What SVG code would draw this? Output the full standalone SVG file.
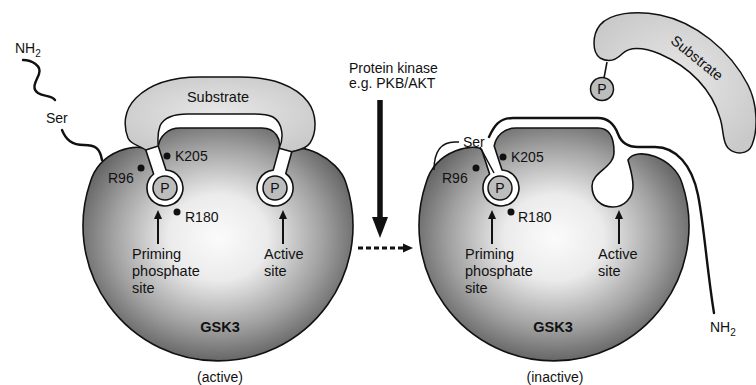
<svg xmlns="http://www.w3.org/2000/svg" width="756" height="385" viewBox="0 0 756 385">
  <style>
    text { font-family: "Liberation Sans", Arial, sans-serif; font-size: 14px; fill: #111; }
    .lbl { font-size: 14.5px; }
    .bold { font-weight: bold; font-size: 14.5px; }
    .mid { text-anchor: middle; }
    .body { fill: url(#bodyShade); stroke: #111; stroke-width: 1.6; stroke-linejoin: round; }
    .sub { fill: url(#subShade); stroke: #111; stroke-width: 1.5; stroke-linejoin: round; }
    .pho { fill: #bdbdbd; stroke: #111; stroke-width: 1.5; }
    .dot { fill: #111; }
    .chain { fill: none; stroke: #111; stroke-width: 2.4; stroke-linecap: round; }
    .thin { fill: none; stroke: #111; stroke-width: 1.5; }
    .ptr { stroke: #111; stroke-width: 2; }
    .head { fill: #111; }
  </style>
  <defs>
    <radialGradient id="bodyShade" cx="0.5" cy="0.47" r="0.56">
      <stop offset="0" stop-color="#fbfbfb"/>
      <stop offset="0.33" stop-color="#ebebeb"/>
      <stop offset="0.7" stop-color="#a0a0a0"/>
      <stop offset="1" stop-color="#5a5a5a"/>
    </radialGradient>
    <radialGradient id="subShade" cx="0.5" cy="0.5" r="0.6">
      <stop offset="0" stop-color="#e8e8e8"/>
      <stop offset="1" stop-color="#c9c9c9"/>
    </radialGradient>
  </defs>

  <!-- active GSK3 with bound primed substrate -->
  <g id="gsk3-active">
    <path class="body" d="M145.8 150 C141 143 100 148 90 183 A135 135 0 1 0 346 183 C338 157 297 141 291.8 151.7 L285.8 173.5 A18 18 0 1 1 273.2 170.1 L279.2 148.3 C281 140 276 128 262 128 L180 128 C168 128 160 136 158.2 146 L166 170 A18 18 0 1 1 153.6 174 Z"/>
    <circle class="pho" cx="165" cy="188" r="12"/>
    <text class="mid" x="165" y="193">P</text>
    <circle class="pho" cx="275" cy="188" r="12"/>
    <text class="mid" x="275" y="193">P</text>
    <circle class="dot" cx="141" cy="168" r="3.5"/>
    <circle class="dot" cx="167" cy="156" r="3.5"/>
    <circle class="dot" cx="177" cy="212" r="3.5"/>
    <text x="108" y="183">R96</text>
    <text x="175" y="161">K205</text>
    <text x="185" y="222">R180</text>
    <line class="ptr" x1="158" y1="244" x2="158" y2="218"/>
    <path class="head" d="M154 219 L158 210 L162 219 Z"/>
    <line class="ptr" x1="283" y1="244" x2="283" y2="218"/>
    <path class="head" d="M279 219 L283 210 L287 219 Z"/>
    <text class="lbl" x="132" y="259">Priming</text>
    <text class="lbl" x="132" y="276">phosphate</text>
    <text class="lbl" x="132" y="293">site</text>
    <text class="lbl" x="264" y="259">Active</text>
    <text class="lbl" x="264" y="276">site</text>
    <text class="bold mid" x="220" y="332">GSK3</text>
    <text class="mid" x="220" y="382">(active)</text>
    <!-- free N-terminal tail -->
    <text x="15" y="53">NH<tspan font-size="10" dy="4">2</tspan></text>
    <path class="chain" d="M23 60 C32 60 42 66 39 74 C36 82 31 88 38 93 C44 97 51 95 55 100"/>
    <text x="46" y="123">Ser</text>
    <path class="chain" d="M62 130 C66 140 72 145 84 145 C95 145 100 148 102 160"/>
  </g>

  <g id="substrate-bound">
    <path class="sub" d="M145.8 150 C139 145 131 145 128 138 C123 125 124 110 136 98 C150 84 170 77 200 77 L240 77 C272 77 296 86 308 102 C317 114 317 132 310 143 C305 150 297 150 291.8 151.7 L279.2 148.3 C284 138 283 123 273 117 C267 114 260 114 252 114 L188 114 C176 114 164 117 160 126 C157 134 158 142 158.2 146 Z"/>
    <text class="lbl mid" x="218" y="102">Substrate</text>
  </g>

  <!-- inactive GSK3: phospho-Ser tail occupies the priming pocket -->
  <g id="gsk3-inactive">
    <g transform="translate(336 0)">
      <path class="body" d="M145.8 150 C141 143 100 148 90 183 A135 135 0 1 0 346 183 C338 157 300 146 292 160 C294 168 297 176 297 186 C297 198 288 207 277 207 C265 207 256 199 256 186 C256 172 278 168 278 152 C278 136 273 128 262 128 L180 128 C168 128 160 136 158.2 146 L166 170 A18 18 0 1 1 153.6 174 Z"/>
      <circle class="pho" cx="164" cy="188" r="12"/>
      <text class="mid" x="164" y="193">P</text>
      <circle class="dot" cx="140" cy="168" r="3.5"/>
      <circle class="dot" cx="167" cy="157" r="3.5"/>
      <circle class="dot" cx="175" cy="212" r="3.5"/>
      <text x="106" y="183">R96</text>
      <text x="175" y="162">K205</text>
      <text x="182" y="222">R180</text>
      <line class="ptr" x1="156" y1="244" x2="156" y2="218"/>
      <path class="head" d="M152 219 L156 210 L160 219 Z"/>
      <line class="ptr" x1="283" y1="244" x2="283" y2="218"/>
      <path class="head" d="M279 219 L283 210 L287 219 Z"/>
      <text class="lbl" x="129" y="259">Priming</text>
      <text class="lbl" x="129" y="276">phosphate</text>
      <text class="lbl" x="129" y="293">site</text>
      <text class="lbl" x="262" y="259">Active</text>
      <text class="lbl" x="262" y="276">site</text>
      <text class="bold mid" x="217" y="332">GSK3</text>
      <text class="mid" x="219" y="382">(inactive)</text>
    </g>
    <path class="thin" d="M434 170 C434 152 440 142 455 142 L459 142"/>
    <text x="463" y="147">Ser</text>
    <path class="thin" d="M480 147 L494 173"/>
    <path class="chain" d="M489 137 C494 126 499 118 513 118 L598 118 C610 118 615 126 618 134 C621 142 627 147 638 147 L655 147 C676 147 692 165 698 195 C704 225 707 270 714 313"/>
    <text x="710" y="332">NH<tspan font-size="10" dy="4">2</tspan></text>
  </g>

  <g id="substrate-free">
    <path class="sub" d="M600 58 C592 52 592 35 600 25 C610 13 635 10 660 15 C695 22 730 50 748 85 C758 105 758 130 752 145 C748 155 735 155 728 148 C722 142 724 130 720 118 C712 90 690 67 660 54 C645 48 630 46 622 54 C615 61 607 62 600 58 Z"/>
    <text class="lbl mid" transform="rotate(39 697 58)" x="697" y="63">Substrate</text>
    <line class="thin" x1="607" y1="62" x2="604" y2="78"/>
    <circle class="pho" cx="602" cy="89" r="11.5"/>
    <text class="mid" x="602" y="94">P</text>
  </g>

  <g id="kinase-label">
    <text x="349" y="73">Protein kinase</text>
    <text x="349" y="88">e.g. PKB/AKT</text>
  </g>

  <g id="connectors">
    <line x1="380" y1="100" x2="380" y2="222" stroke="#111" stroke-width="5.5"/>
    <path class="head" d="M372 217 L388 217 L380 238 Z"/>
    <line x1="358" y1="248" x2="405" y2="248" stroke="#111" stroke-width="3" stroke-dasharray="5 3"/>
    <path class="head" d="M403 243.5 L413 248 L403 252.5 Z"/>
  </g>
</svg>
